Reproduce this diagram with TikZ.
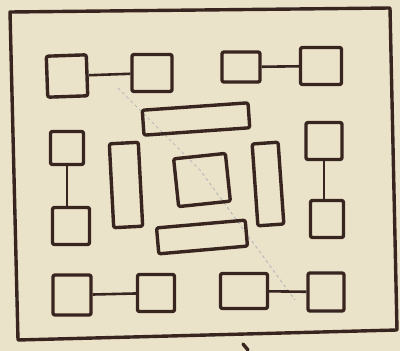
\documentclass[tikz,border=0pt]{standalone}
\begin{document}
\begin{tikzpicture}[x=1pt,y=-1pt,
  ink/.style={draw=inkc, line width=3.4pt, line join=round, line cap=round},
  box/.style={ink, rectangle, rounded corners=2pt, inner sep=0pt},
  link/.style={draw=inkc, line width=2.6pt}]
\definecolor{paper}{HTML}{EBE3C9}
\definecolor{inkc}{HTML}{38251F}
\useasboundingbox (0,0) rectangle (400,351);
\fill[paper] (0,0) rectangle (400,351);
% faint pencil mark
\draw[gray!55, line width=1pt, dashed] (118,88) -- (200,170) -- (295,300);
% frame
\draw[ink] (10,12) -- (390,8) -- (397,330) -- (18,340) -- cycle;
% top row
\node[box, minimum width=40pt, minimum height=41pt, rotate=2] (a) at (67,76) {};
\node[box, minimum width=40pt, minimum height=37pt] (b) at (152,73) {};
\node[box, minimum width=38pt, minimum height=30pt] (c) at (241,67) {};
\node[box, minimum width=41pt, minimum height=37pt] (d) at (321,66) {};
\draw[link] (a) -- (b);
\draw[link] (c) -- (d);
% horizontal bars
\node[box, minimum width=106pt, minimum height=25pt, rotate=4] (h1) at (196,119) {};
\node[box, minimum width=89pt, minimum height=26pt, rotate=5] (h2) at (202,237) {};
% left pair
\node[box, minimum width=33pt, minimum height=33pt] (e) at (67,148) {};
\node[box, minimum width=37pt, minimum height=37pt] (f) at (71,226) {};
\draw[link] (e) -- (e |- f.north);
% vertical bars
\node[box, minimum width=29pt, minimum height=84pt, rotate=3] (v1) at (126,185) {};
\node[box, minimum width=26pt, minimum height=82pt, rotate=4] (v2) at (268,184) {};
% centre square
\node[box, minimum width=52pt, minimum height=48pt, rotate=6] (m) at (202,180) {};
% right pair
\node[box, minimum width=36pt, minimum height=37pt] (g) at (324,141) {};
\node[box, minimum width=33pt, minimum height=37pt] (hh) at (327,219) {};
\draw[link] (g) -- (g |- hh.north);
% bottom row
\node[box, minimum width=38pt, minimum height=40pt] (i) at (72,295) {};
\node[box, minimum width=37pt, minimum height=37pt] (j) at (156,293) {};
\node[box, minimum width=47pt, minimum height=35pt] (k) at (244,291) {};
\node[box, minimum width=36pt, minimum height=38pt] (l) at (326,292) {};
\draw[link] (i) -- (j);
\draw[link] (k) -- (l);
% small stroke below frame
\draw[ink] (243,344) -- (248,350);
\end{tikzpicture}
\end{document}
